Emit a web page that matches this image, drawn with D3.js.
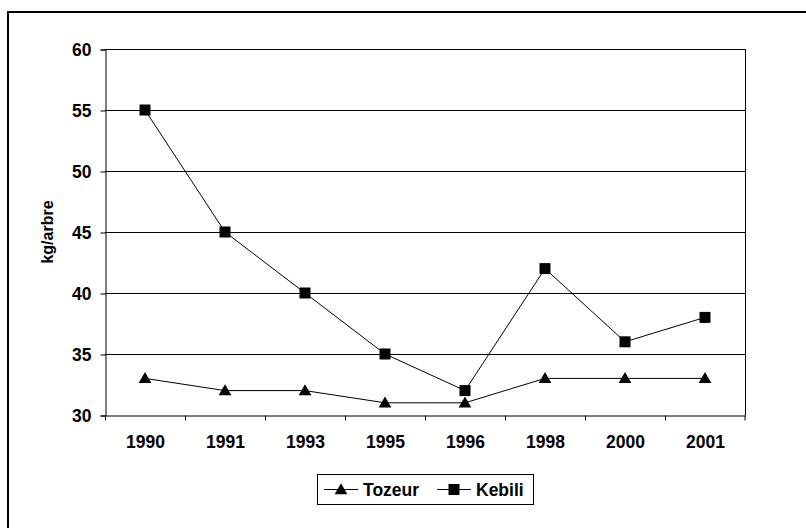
<!DOCTYPE html>
<html><head><meta charset="utf-8">
<script src="https://cdn.jsdelivr.net/npm/d3@7"></script>
<style>body{margin:0;background:#fff}svg{display:block}text{font-family:"Liberation Sans",Arial,sans-serif;font-weight:bold}</style>
</head><body>
<script>
const years = ["1990","1991","1993","1995","1996","1998","2000","2001"];
const tozeur = [33,32,32,31,31,33,33,33];
const kebili = [55,45,40,35,32,42,36,38];
const yTicks = [30,35,40,45,50,55,60];
const seriesNames = ["Tozeur","Kebili"];
const yTitle = "kg/arbre";

const W=806,H=528;
const svg=d3.select("body").append("svg").attr("width",W).attr("height",H);
svg.append("rect").attr("x",8).attr("y",12).attr("width",W).attr("height",H).attr("fill","#fff").attr("stroke","#000").attr("stroke-width",2);

const L=105,R=745,T=49,B=415;
const x=d3.scaleBand().domain(years).range([L,R]);
const y=d3.scaleLinear().domain([30,60]).range([B,T]);

// gridlines
svg.append("g").selectAll("line").data(yTicks.slice(1)).join("line")
  .attr("x1",L).attr("x2",R).attr("y1",d=>y(d)+0.5).attr("y2",d=>y(d)+0.5)
  .attr("stroke","#000").attr("stroke-width",1);
// right border
svg.append("line").attr("x1",R+0.5).attr("x2",R+0.5).attr("y1",T).attr("y2",B).attr("stroke","#000");

// y axis
const ya=svg.append("g").attr("transform",`translate(${L+0.5},0.5)`)
  .call(d3.axisLeft(y).tickValues(yTicks).tickSize(5).tickPadding(9));
// x axis
const xa=svg.append("g").attr("transform",`translate(0.5,${B+0.5})`)
  .call(d3.axisBottom(x).tickSize(0).tickPadding(20));
xa.selectAll(".tick").append("line").attr("x1",-x.bandwidth()/2).attr("x2",-x.bandwidth()/2).attr("y1",0).attr("y2",5).attr("stroke","#000");
xa.append("line").attr("x1",R-0.5).attr("x2",R-0.5).attr("y1",0).attr("y2",5).attr("stroke","#000");
[ya,xa].forEach(a=>{a.selectAll("text").attr("font-size",17.5).attr("fill","#000").attr("font-family","Liberation Sans, Arial, sans-serif").attr("font-weight","bold");
 a.selectAll("path,line").attr("stroke","#000");});

svg.append("text").attr("transform",`translate(53,${(T+B)/2}) rotate(-90)`).attr("text-anchor","middle")
  .attr("font-size",16).text(yTitle);

const cx=(d,i)=>x(years[i])+x.bandwidth()/2;
const line=d3.line().x((d,i)=>cx(d,i)).y(d=>y(d));
const tri=d3.symbol().type(d3.symbolTriangle).size(70);
const sq=d3.symbol().type(d3.symbolSquare).size(121);

svg.append("path").attr("d",line(tozeur)).attr("fill","none").attr("stroke","#000");
svg.append("path").attr("d",line(kebili)).attr("fill","none").attr("stroke","#000");
svg.append("g").selectAll("path").data(tozeur).join("path")
  .attr("transform",(d,i)=>`translate(${cx(d,i)},${y(d)+1})`).attr("d",tri).attr("fill","#000");
svg.append("g").selectAll("path").data(kebili).join("path")
  .attr("transform",(d,i)=>`translate(${cx(d,i)},${y(d)})`).attr("d",sq).attr("fill","#000");

// legend
const lg=svg.append("g");
lg.append("rect").attr("x",317.5).attr("y",474.5).attr("width",216).attr("height",30).attr("fill","#fff").attr("stroke","#000");
const items=[{name:seriesNames[0],x0:324,sym:tri,dy:1},{name:seriesNames[1],x0:437,sym:sq,dy:0}];
items.forEach(it=>{
  lg.append("line").attr("x1",it.x0).attr("x2",it.x0+34).attr("y1",489.5).attr("y2",489.5).attr("stroke","#000");
  lg.append("path").attr("transform",`translate(${it.x0+17},${489.5+it.dy})`).attr("d",it.sym).attr("fill","#000");
  lg.append("text").attr("x",it.x0+39).attr("y",496).attr("font-size",17.5).text(it.name);
});
</script>
</body></html>
